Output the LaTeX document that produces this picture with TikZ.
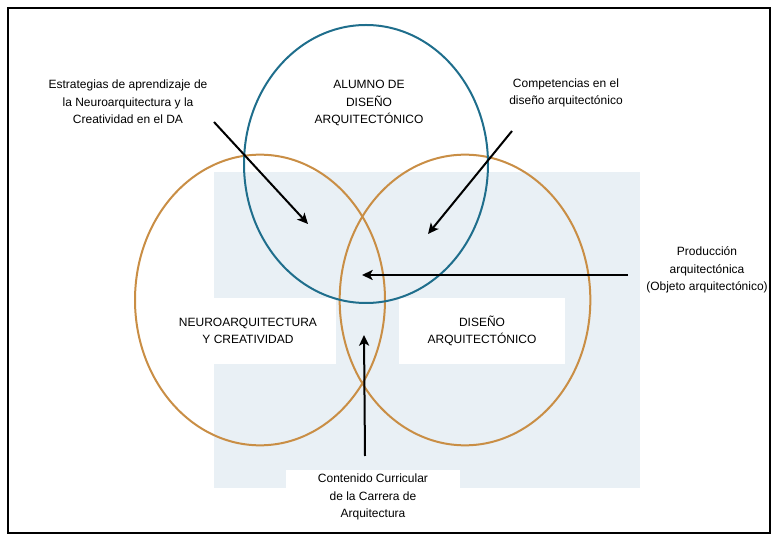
\documentclass[tikz,border=0pt]{standalone}
\usepackage{fontspec}
\setmainfont{Liberation Sans}
\usetikzlibrary{positioning, arrows, arrows.meta, shapes}
\definecolor{setblue}{HTML}{1F6E8C}
\definecolor{setorange}{HTML}{C98E45}
\definecolor{scanblue}{HTML}{E9F0F5}

\begin{document}
\begin{tikzpicture}[x=0.75pt, y=-0.75pt, semithick,
    set/.style={ellipse, draw, line width=1.5pt, inner sep=0pt},
    txt/.style={align=center, font=\fontsize{9}{13}\selectfont, inner sep=2pt},
    patch/.style={txt, fill=white},
    arr/.style={-{Stealth[length=8pt, width=7.5pt, inset=2pt]}, line width=1.5pt}]
  \useasboundingbox (0,0) rectangle (771,534);
  \draw[line width=1.5pt] (8,8) rectangle (770,533);
  \fill[scanblue] (214,172) rectangle (640,488);

  \node[patch, minimum width=132pt, minimum height=49pt] (neuro) at (248,331) {NEUROARQUITECTURA\\Y CREATIVIDAD};
  \node[patch, minimum width=124pt, minimum height=50pt] (diseno) at (482,331) {DISEÑO\\ARQUITECTÓNICO};
  \node[patch, minimum width=130pt, minimum height=41pt] (cont) at (373,497) {Contenido Curricular\\de la Carrera de\\Arquitectura};

  \node[set, draw=setorange, minimum width=187.5pt, minimum height=218pt] (neuroset) at (260,300) {};
  \node[set, draw=setorange, minimum width=188pt, minimum height=218pt] (disenoset) at (465,300) {};
  \node[set, draw=setblue, minimum width=183pt, minimum height=208.5pt] (alumnoset) at (366,164) {};

  \node[txt] (alumno) at (369,103) {ALUMNO DE\\DISEÑO\\ARQUITECTÓNICO};
  \node[txt] (estr) at (128,102) {Estrategias de aprendizaje de\\la Neuroarquitectura y la\\Creatividad en el DA};
  \node[txt] (comp) at (566,93) {Competencias en el\\diseño arquitectónico};
  \node[txt] (prod) at (707,270) {Producción\\arquitectónica\\(Objeto arquitectónico)};

  \coordinate (estrtail) at (214,122);
  \coordinate (comptail) at (512,131);
  \coordinate (prodtail) at (628,275);
  \coordinate (conttail) at (365,456);
  \coordinate (lensleft) at (308,224);
  \coordinate (lensright) at (428,234);
  \coordinate (lenscentre) at (362,275);
  \coordinate (lensbottom) at (364,335);

  \draw (estrtail) edge[arr] (lensleft);
  \draw (comptail) edge[arr] (lensright);
  \draw (prodtail) edge[arr] (lenscentre);
  \draw (conttail) edge[arr] (lensbottom);
\end{tikzpicture}
\end{document}
